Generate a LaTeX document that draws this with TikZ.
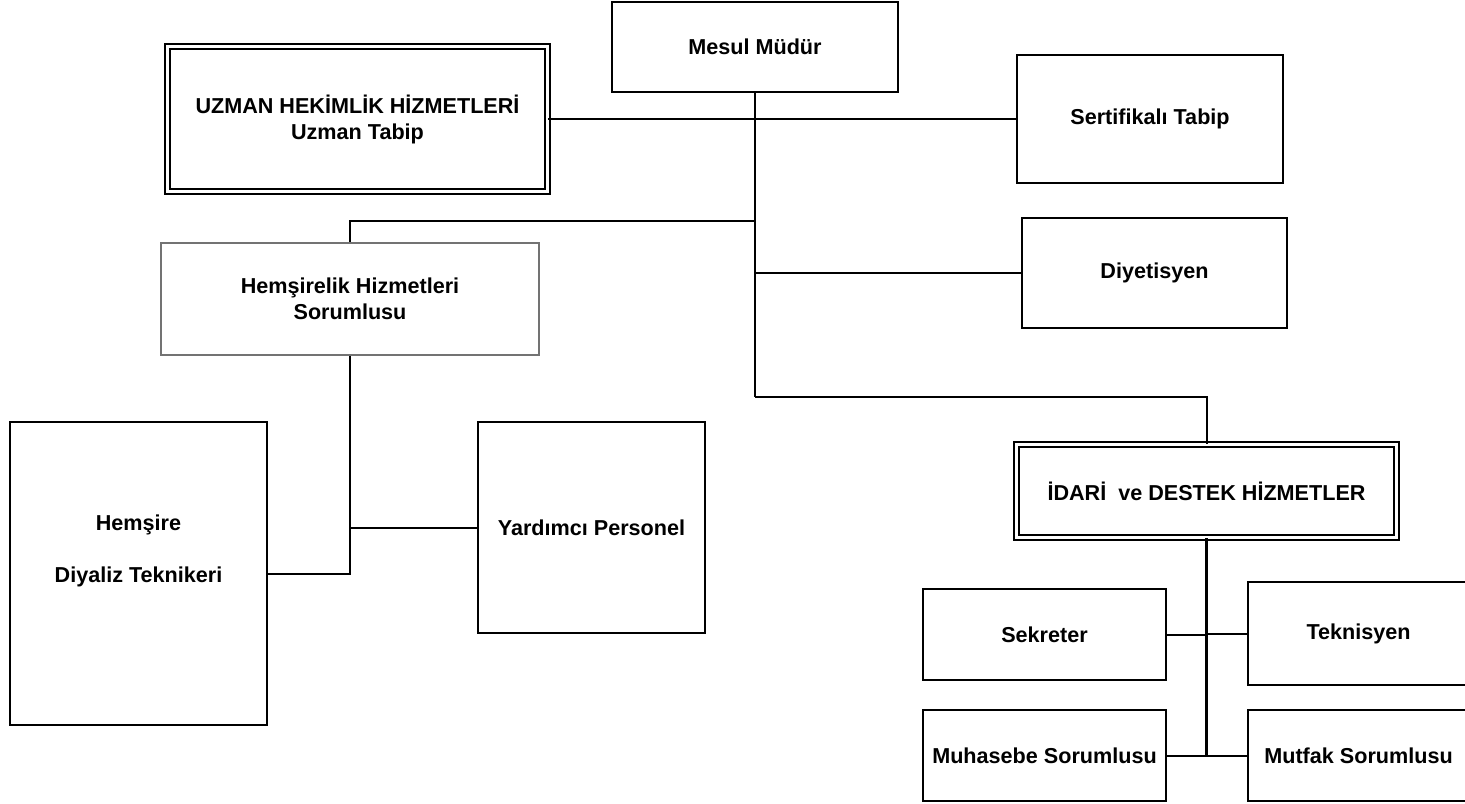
\documentclass[tikz,border=0pt]{standalone}
\usepackage{fontspec}
\setmainfont{Liberation Sans}
\begin{document}
\begin{tikzpicture}[x=0.5pt, y=-0.5pt,
  font=\fontsize{10.8}{13}\selectfont\bfseries,
  box/.style={draw, line width=0.9pt, align=center, inner sep=2pt},
  dbox/.style={box, double, double distance=1.4pt},
  link/.style={line width=1pt},
  trunk/.style={line width=1.4pt}]

\useasboundingbox (0,0) rectangle (1465,803);
\clip (0,0) rectangle (1465,803);

\node[box, minimum width=143pt, minimum height=45pt] (mudur) at (755,47) {Mesul Müdür};
\node[dbox, minimum width=190pt, minimum height=72.5pt] (uzman) at (357.5,119) {UZMAN HEKİMLİK HİZMETLERİ\\Uzman Tabip};
\node[box, minimum width=133pt, minimum height=64pt] (sertifika) at (1150,119) {Sertifikalı Tabip};
\node[box, minimum width=132.5pt, minimum height=55pt] (diyet) at (1154.5,273) {Diyetisyen};

\node[box, draw=black!55, minimum width=189pt, minimum height=56pt] (hemsor) at (350,299) {Hemşirelik Hizmetleri\\Sorumlusu};
\node[box, minimum width=128.5pt, minimum height=151.5pt, text depth=25pt] (hemsire) at (138.5,573.5) {Hemşire\\[13pt]Diyaliz Teknikeri};
\node[box, minimum width=113.5pt, minimum height=105.5pt] (yardim) at (591.5,527.5) {Yardımcı Personel};

\node[dbox, minimum width=190pt, minimum height=46.5pt] (idari) at (1206.5,491) {İDARİ\ \ ve DESTEK HİZMETLER};
\node[box, minimum width=121.5pt, minimum height=45.5pt] (sekreter) at (1044.5,634.5) {Sekreter};
\node[box, minimum width=110.5pt, minimum height=51.5pt] (teknisyen) at (1358.5,633.5) {Teknisyen};
\node[box, minimum width=121.5pt, minimum height=45.5pt] (muhasebe) at (1044.5,755.5) {Muhasebe Sorumlusu};
\node[box, minimum width=110.5pt, minimum height=45.5pt] (mutfak) at (1358.5,755.5) {Mutfak Sorumlusu};

\coordinate (kol1) at (755,221);
\coordinate (kol2) at (755,397);

\draw[trunk] (mudur.south) -- (kol2);
\draw[link] (kol2) -| (idari.north);
\draw[link] (uzman.east) -- (sertifika.west);
\draw[link] (kol1) -| (hemsor.north);
\draw[link] (mudur.south |- diyet.west) -- (diyet.west);

\draw[link] (hemsor.south) |- (hemsire.east);
\draw[link] (hemsor.south |- yardim.west) -- (yardim.west);

\draw[trunk] (idari.south) -- (idari.south |- muhasebe.east);
\draw[link] (sekreter.east) -- (sekreter.east -| idari.south);
\draw[link] (teknisyen.west) -- (teknisyen.west -| idari.south);
\draw[link] (muhasebe.east) -- (mutfak.west);

\end{tikzpicture}
\end{document}
